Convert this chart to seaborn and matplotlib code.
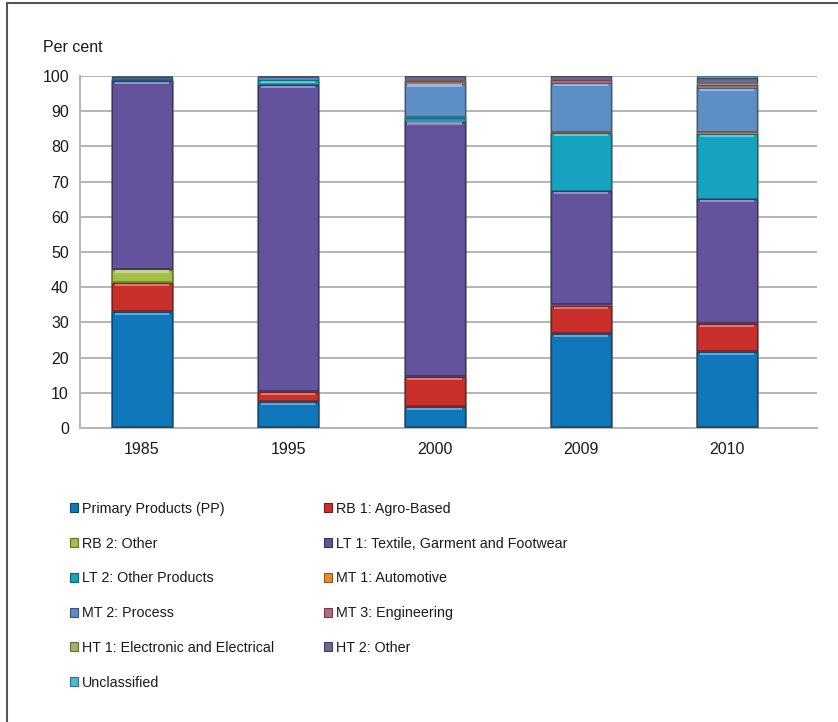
import numpy as np
import pandas as pd
import matplotlib
matplotlib.use("Agg")
import matplotlib.pyplot as plt
from matplotlib.lines import Line2D
from matplotlib.patches import Patch, Rectangle
import seaborn as sns

years = ["1985", "1995", "2000", "2009", "2010"]

series_names = [
    "Primary Products (PP)",
    "RB 1: Agro-Based",
    "RB 2: Other",
    "LT 1: Textile, Garment and Footwear",
    "LT 2: Other Products",
    "MT 1: Automotive",
    "MT 2: Process",
    "MT 3: Engineering",
    "HT 1: Electronic and Electrical",
    "HT 2: Other",
    "Unclassified",
]

pp   = [33.0, 7.4, 6.0, 26.7, 21.6]
rb1  = [8.2, 2.8, 8.5, 8.0, 7.9]
rb2  = [3.8, 0.1, 0.1, 0.3, 0.1]
lt1  = [53.5, 87.1, 72.4, 32.3, 35.4]
lt2  = [0.3, 1.5, 1.2, 16.5, 18.5]
mt1  = [0.0, 0.1, 0.1, 0.2, 0.5]
mt2  = [0.3, 0.8, 9.5, 14.0, 12.6]
mt3  = [0.0, 0.0, 0.9, 1.0, 0.9]
ht1  = [0.1, 0.0, 0.1, 0.2, 0.6]
ht2  = [0.4, 0.2, 1.2, 0.8, 1.4]
uncl = [0.4, 0.0, 0.0, 0.0, 0.5]

colors = [
    "#1177bb",  # PP
    "#c9302c",  # RB 1
    "#a3bf45",  # RB 2
    "#62539c",  # LT 1
    "#16a3c0",  # LT 2
    "#ee8a2a",  # MT 1
    "#5d8ec6",  # MT 2
    "#b46a7c",  # MT 3
    "#a5b064",  # HT 1
    "#6c6794",  # HT 2
    "#52b5d6",  # Unclassified
]

values = [pp, rb1, rb2, lt1, lt2, mt1, mt2, mt3, ht1, ht2, uncl]

rows = []
for name, vals in zip(series_names, values):
    for yr, v in zip(years, vals):
        rows.append({"year": yr, "series": name, "value": v})
df = pd.DataFrame(rows)
df["cum"] = df.groupby("year")["value"].cumsum()

sns.set_theme(style="white")
plt.rcParams["font.family"] = ["Liberation Sans", "DejaVu Sans"]

fig = plt.figure(figsize=(8.38, 7.22), dpi=100)
ax = fig.add_axes([80 / 838, 1 - 428 / 722, (817 - 80) / 838, (428 - 76) / 722])


def shade(c, f):
    r, g, b = matplotlib.colors.to_rgb(c)
    if f <= 1:
        return (r * f, g * f, b * f)
    t = f - 1
    return (r + (1 - r) * t, g + (1 - g) * t, b + (1 - b) * t)


BAR_W = 0.41

# stacked bars: draw cumulative totals from the top series down
for name, col in reversed(list(zip(series_names, colors))):
    sub = df[df["series"] == name]
    sns.barplot(data=sub, x="year", y="cum", order=years, color=col,
                width=BAR_W, saturation=1, edgecolor=shade(col, 0.65),
                linewidth=0.9, ax=ax, zorder=3)

# soft bevel: a light strip at the top of each segment and a dark one below
for i, yr in enumerate(years):
    sub = df[df["year"] == yr].reset_index(drop=True)
    for j, r in sub.iterrows():
        if r["value"] < 1.5:
            continue
        col = colors[series_names.index(r["series"])]
        top = r["cum"]
        bot = top - r["value"]
        x0 = i - BAR_W / 2 + 0.02
        ax.add_patch(Rectangle((x0, top - 0.9), BAR_W - 0.04, 0.7,
                               facecolor=shade(col, 1.35), edgecolor="none",
                               zorder=4))
        ax.add_patch(Rectangle((i - BAR_W / 2, bot), BAR_W, 0.45,
                               facecolor=shade(col, 0.7), edgecolor="none",
                               zorder=4))

ax.set_ylim(0, 100)
ax.set_xlim(-0.424, 4.615)
ax.set_yticks(np.arange(0, 101, 10))
ax.yaxis.grid(True, color="#b4b4b4", linewidth=1.4, zorder=0)
ax.set_axisbelow(True)
for s in ["top", "right"]:
    ax.spines[s].set_visible(False)
for s in ["left", "bottom"]:
    ax.spines[s].set_color("#b4b4b4")
    ax.spines[s].set_linewidth(1.4)
ax.set_xlabel("")
ax.set_ylabel("")
ax.tick_params(axis="both", labelsize=11.5, colors="#1a1a1a", length=0, pad=8)
ax.tick_params(axis="x", pad=10)

fig.text(43 / 838, 1 - 47 / 722, "Per cent", fontsize=11.5, color="#1a1a1a",
         ha="left", va="center")

# legend reads across rows, two entries per row
order = list(range(0, len(series_names), 2)) + list(range(1, len(series_names), 2))
handles = [Patch(facecolor=colors[k], edgecolor=shade(colors[k], 0.6),
                 linewidth=0.8) for k in order]
labels = [series_names[k] for k in order]
leg = fig.legend(handles, labels, ncol=2, loc="upper left",
                 bbox_to_anchor=(57 / 838, 1 - 489 / 722), frameon=False,
                 fontsize=10.3, handlelength=0.6, handleheight=0.6,
                 handletextpad=0.25, columnspacing=3.45, labelspacing=1.45)
for t in leg.get_texts():
    t.set_color("#1a1a1a")

# frame lines along the top and left edges
fig.add_artist(Line2D([7 / 838, 1.0], [1 - 3 / 722, 1 - 3 / 722],
                      color="#555555", linewidth=1.5, transform=fig.transFigure))
fig.add_artist(Line2D([7 / 838, 7 / 838], [0.0, 1 - 3 / 722],
                      color="#555555", linewidth=1.5, transform=fig.transFigure))

fig.savefig("out.png", dpi=100)
